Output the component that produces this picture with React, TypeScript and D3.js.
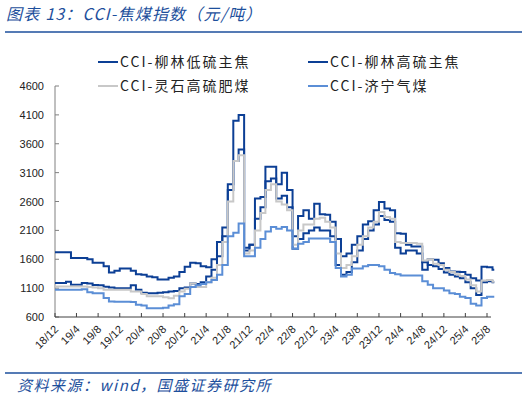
import * as d3 from 'd3';
import React from 'react';

// monthly readings, first value = 2018/12
const startYear = 2018;
const startMonth = 11;

const seriesNames = ['CCI-柳林低硫主焦', 'CCI-柳林高硫主焦', 'CCI-灵石高硫肥煤', 'CCI-济宁气煤'];
const seriesColors = ['#0c3f95', '#0c3f95', '#c8c8c8', '#5b8ed6'];

const liulinLow = [
  1720, 1720, 1720, 1620, 1620, 1620, 1600, 1540, 1540, 1480,
  1370, 1400, 1440, 1440, 1400, 1340, 1330, 1300, 1290, 1250,
  1250, 1280, 1300, 1380, 1470, 1540, 1530, 1480, 1460, 1600,
  1900, 2150, 2800, 4000, 4100, 1750, 1850, 2650, 2680, 3200,
  3200, 2900, 3100, 2800, 2000, 2350, 2450, 2300, 2560, 2380,
  2370, 2250, 1950, 1650, 1700, 1850, 2000, 2200, 2260, 2450,
  2590, 2480, 2450, 2050, 2040, 1850, 1820, 1820, 1420, 1600,
  1590, 1530, 1450, 1390, 1385, 1380, 1330, 1270, 1230, 1470,
  1460, 1420,
];
const liulinHigh = [
  1190, 1190, 1210, 1160, 1160, 1190, 1180, 1155, 1150, 1125,
  1110, 1100, 1100, 1100, 1150, 1070, 1020, 1010, 1010, 1020,
  1030, 1040, 1050, 1100, 1110, 1180, 1170, 1200, 1300, 1420,
  1650, 2000, 2900, 3300, 3500, 1800, 1850, 2300, 2500, 2950,
  3000, 2650, 2700, 2500, 1780, 1950, 2050, 2100, 2150, 2100,
  2100, 2000, 1500, 1330, 1380, 1550, 1750, 1950, 2100, 2200,
  2350, 2280, 2250, 1800, 1700, 1750, 1750, 1700, 1550, 1500,
  1480, 1430, 1370, 1330, 1300, 1270, 1200, 1100, 980, 1200,
  1220, 1200,
];
const lingshi = [
  1130, 1130, 1130, 1130, 1130, 1130, 1120, 1110, 1100, 1070,
  1070, 1070, 1070, 1070, 1040, 1040, 1000, 960, 960, 960,
  940, 925, 970, 1040, 1090, 1180, 1120, 1120, 1200, 1280,
  1500, 1900, 2600, 3300, 3400, 1700, 1750, 2100, 2400, 2800,
  2900, 2600, 2550, 2450, 1850, 2100, 2200, 2200, 2300, 2320,
  2250, 2150, 1700, 1450, 1500, 1650, 1850, 2000, 2150, 2250,
  2420, 2330, 2300, 1900, 1880, 1880, 1880, 1870, 1580, 1600,
  1520, 1500, 1420, 1380, 1340, 1310, 1250, 1150, 1040, 1230,
  1240, 1210,
];
const jining = [
  1070, 1070, 1070, 1070, 1070, 1080, 1030, 1010, 1010, 930,
  870, 865, 865, 865, 860, 810, 800, 750, 750, 750,
  760, 800, 820, 960, 1000, 1120, 1150, 1170, 1200, 1240,
  1330, 1500, 2000, 2060, 2220, 1650, 1650, 1800, 1950, 2080,
  2160, 2130, 2160, 2100, 1780, 1870, 1900, 1960, 1960, 1960,
  1960, 1900, 1450, 1300, 1330, 1440, 1440, 1480, 1500, 1500,
  1480, 1420, 1360, 1340, 1320, 1320, 1320, 1320, 1220, 1160,
  1100, 1100, 1060, 1010, 1000, 950, 930, 830, 800, 930,
  950, 950,
];

const xTickLabels = [
  '18/12', '19/4', '19/8', '19/12', '20/4', '20/8', '20/12', '21/4', '21/8', '21/12', '22/4',
  '22/8', '22/12', '23/4', '23/8', '23/12', '24/4', '24/8', '24/12', '25/4', '25/8',
];
const yTicks = [600, 1100, 1600, 2100, 2600, 3100, 3600, 4100, 4600];

const blue = '#1d4f9c';
const cjk = '"Noto Sans CJK SC", sans-serif';
const latin = "'Liberation Sans', Arial, sans-serif";

export default function App() {
  const allSeries = [liulinLow, liulinHigh, lingshi, jining];
  const monthDate = (i: number) => new Date(startYear, startMonth + i, 1);
  const tickDates = xTickLabels.map((_, i) => monthDate(i * 4));

  const x = d3
    .scaleTime()
    .domain([tickDates[0], tickDates[tickDates.length - 1]])
    .range([55, 487]);
  const y = d3.scaleLinear().domain([600, 4600]).range([317, 86]);

  const line = d3
    .line<{ d: Date; v: number }>()
    .x(p => x(p.d))
    .y(p => y(p.v))
    .curve(d3.curveStepAfter);

  const paths = allSeries.map(vals => {
    const pts = vals.map((v, i) => ({ d: monthDate(i), v }));
    // carry the last reading a few days further so the final step shows
    const last = pts[pts.length - 1];
    pts.push({ d: d3.timeDay.offset(last.d, 10), v: last.v });
    return line(pts) as string;
  });

  const legendPos = [
    [98, 62],
    [308, 62],
    [98, 86],
    [308, 86],
  ];

  return (
    <svg
      width={526}
      height={398}
      style={{ position: 'absolute', left: 0, top: 0, background: '#fff' }}
    >
      <text
        x={6}
        y={20}
        fontFamily={cjk}
        fontStyle="italic"
        fontSize={16}
        letterSpacing={1.2}
        fill={blue}
      >
        图表 13：CCI-焦煤指数（元/吨）
      </text>
      <line x1={5} x2={522} y1={32} y2={32} stroke={blue} strokeWidth={1.6} />

      {seriesNames.map((name, i) => (
        <g key={name} transform={`translate(${legendPos[i][0]},${legendPos[i][1]})`}>
          <line x1={0} x2={20} y1={0} y2={0} stroke={seriesColors[i]} strokeWidth={2} />
          <text x={22} y={5} fontFamily={cjk} fontSize={14} fill="#222" letterSpacing={2}>
            {name}
          </text>
        </g>
      ))}

      {/* y axis */}
      <line x1={55} x2={55} y1={86} y2={317} stroke="#808080" strokeWidth={1} />
      {yTicks.map(t => (
        <g key={t}>
          <line x1={55} x2={59} y1={y(t)} y2={y(t)} stroke="#808080" />
          <text x={44} y={y(t) + 4} textAnchor="end" fontFamily={latin} fontSize={11} fill="#222">
            {t}
          </text>
        </g>
      ))}

      {paths.map((p, i) => (
        <path key={i} d={p} fill="none" stroke={seriesColors[i]} strokeWidth={2} />
      ))}

      {/* x axis */}
      <line x1={55} x2={491} y1={317} y2={317} stroke="#404040" strokeWidth={1} />
      {tickDates.map((d, i) => (
        <g key={i}>
          <line x1={x(d)} x2={x(d)} y1={317} y2={313} stroke="#404040" />
          <text
            transform={`translate(${x(d) + 4},${330}) rotate(-45)`}
            textAnchor="end"
            fontFamily={latin}
            fontSize={11}
            fill="#222"
          >
            {xTickLabels[i]}
          </text>
        </g>
      ))}

      <line x1={5} x2={522} y1={373} y2={373} stroke={blue} strokeWidth={1.6} />
      <text
        x={17}
        y={391}
        fontFamily={cjk}
        fontStyle="italic"
        fontSize={15}
        letterSpacing={1.5}
        fill={blue}
      >
        资料来源：wind，国盛证券研究所
      </text>
    </svg>
  );
}
